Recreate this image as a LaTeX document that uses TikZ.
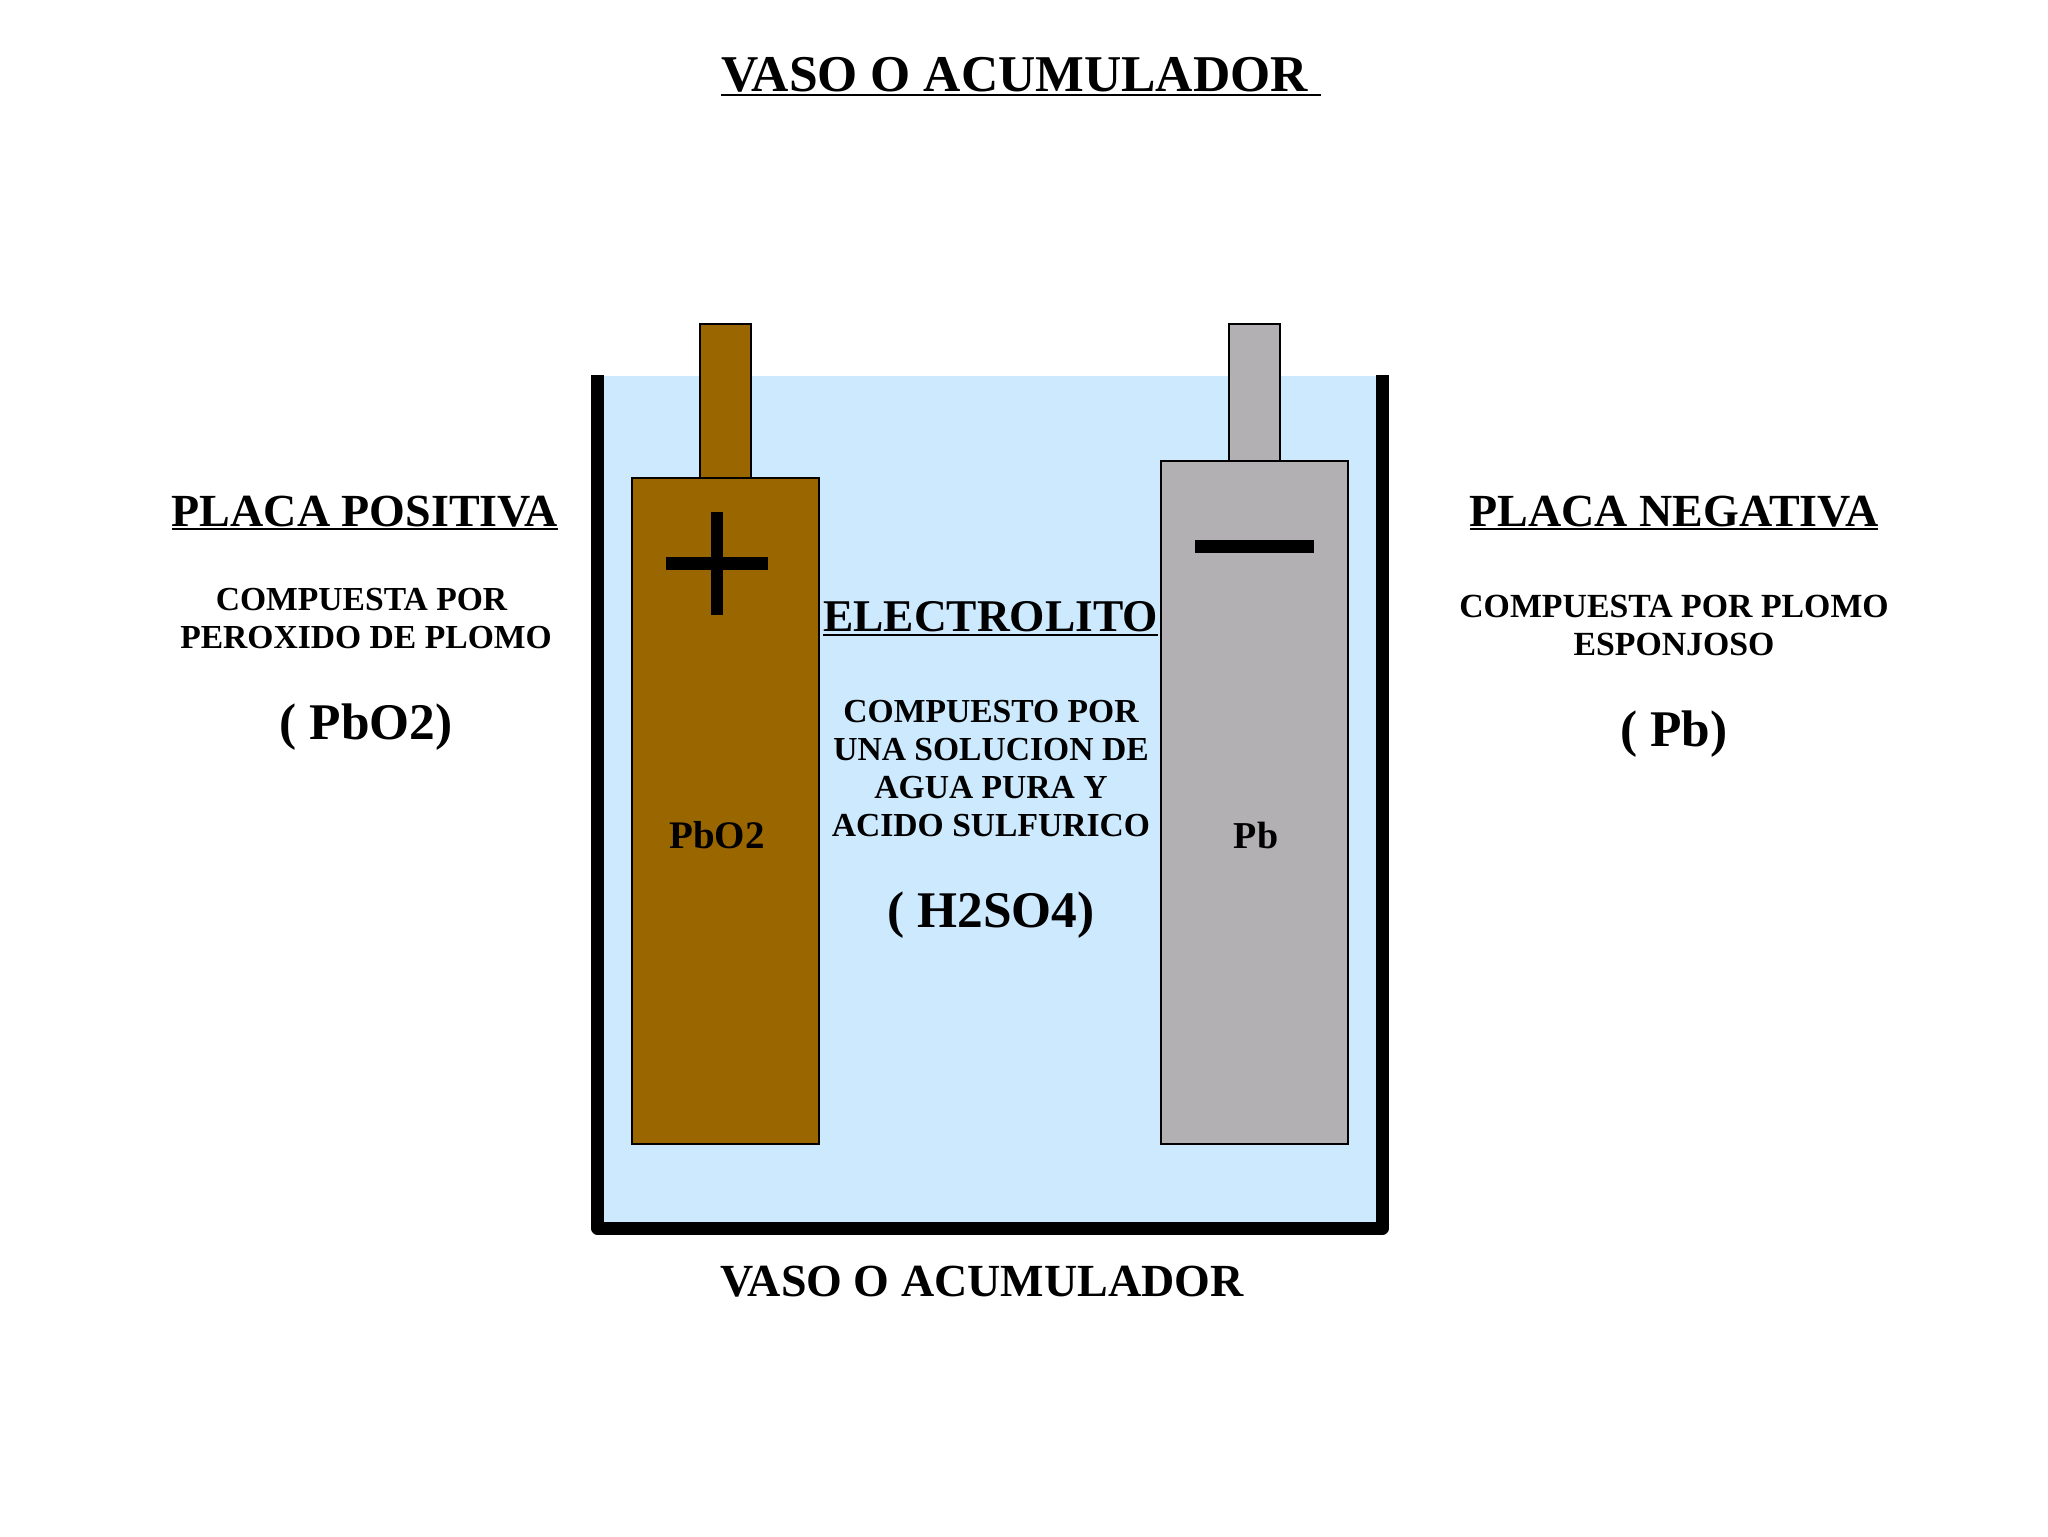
\documentclass[tikz,border=0pt]{standalone}
\usepackage{fontspec}
\setmainfont{Liberation Serif}
\newcommand\ulx[2][1.6pt]{\setbox0\hbox{#2}\rlap{\rule[-#1]{\wd0}{1.1pt}}\box0}
\definecolor{water}{HTML}{CCE9FE}
\definecolor{brownplate}{HTML}{996600}
\definecolor{greyplate}{HTML}{B2B0B2}
\tikzset{
 x=0.5pt,y=-0.5pt,
 lbl/.style={inner sep=0pt,align=center,font=\bfseries\fontsize{#1}{19pt}\selectfont,text=black},
 plate/.style={draw=black,line width=0.7pt}
}
\begin{document}
\begin{tikzpicture}
\useasboundingbox (0,0) rectangle (2048,1536);
\fill[white] (0,0) rectangle (2048,1536);
\fill[water] (598,376) rectangle (1382,1228);
\draw[line width=6.2pt,line join=round,line cap=butt] (597.5,375) -- (597.5,1228.5) -- (1382.5,1228.5) -- (1382.5,375);
\draw[plate,fill=brownplate] (700,324) rectangle (751,478);
\draw[plate,fill=brownplate] (632,478) rectangle (819,1144);
\draw[plate,fill=greyplate] (1229,324) rectangle (1280,461);
\draw[plate,fill=greyplate] (1161,461) rectangle (1348,1144);
\fill[black] (710.5,512) rectangle (723,615);
\fill[black] (666,557) rectangle (768,570);
\fill[black] (1195,540) rectangle (1314,553);
\node[lbl=25.8] (title) at (1021,77) {\ulx[2.4pt]{VASO O ACUMULADOR\ }};
\node[lbl=23] (vaso) at (982,1282) {VASO O ACUMULADOR};
\node[lbl=23] (pos) at (365,513) {\ulx{PLACA POSITIVA}};
\node[lbl=23] (neg) at (1674,513) {\ulx{PLACA NEGATIVA}};
\node[lbl=16.8] (posd) at (366,618.3) {COMPUESTA POR\hspace*{4.5pt}\\PEROXIDO DE PLOMO};
\node[lbl=16.9] (negd) at (1674,625) {COMPUESTA POR PLOMO\\ESPONJOSO};
\node[lbl=25.7] (posf) at (366,727) {( PbO2)};
\node[lbl=25.7] (negf) at (1674,734) {( Pb)};
\node[lbl=22.7] (elec) at (990.6,618.5) {\ulx[2.2pt]{ELECTROLITO}};
\node[lbl=16.8] (eled) at (991,768.3) {COMPUESTO POR\\UNA SOLUCION DE\\AGUA PURA Y\hspace*{6pt}\\ACIDO SULFURICO};
\node[lbl=25.7] (elef) at (991,915) {( H2SO4)};
\node[lbl=19.5] (pb2) at (717,835) {PbO2};
\node[lbl=19] (pb) at (1256,835) {Pb};
\end{tikzpicture}
\end{document}
